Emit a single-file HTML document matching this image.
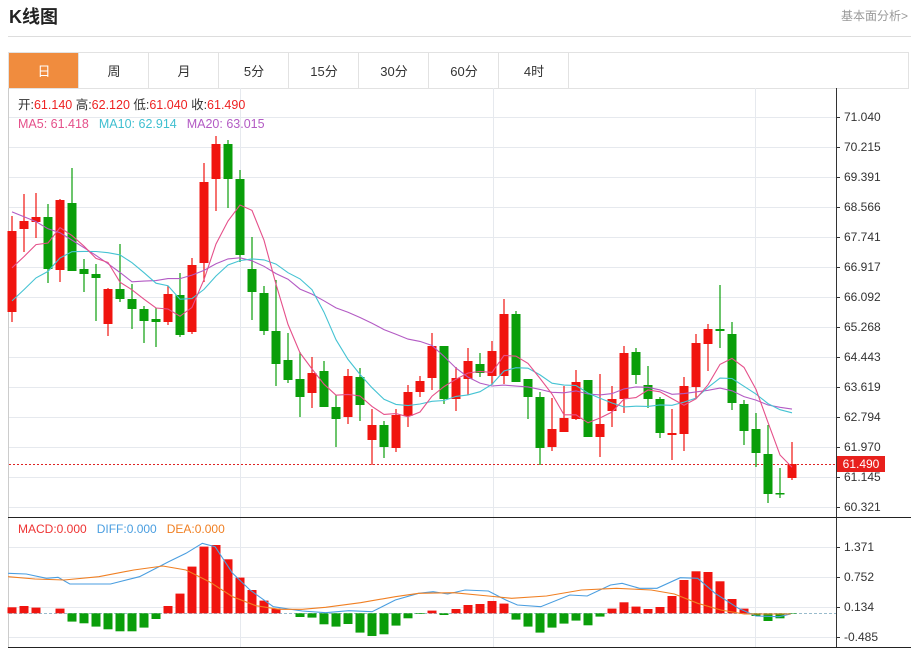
<!DOCTYPE html>
<html><head><meta charset="utf-8"><style>
body{margin:0;width:911px;height:653px;overflow:hidden;background:#fff;font-family:"Liberation Sans","Noto Sans CJK SC",sans-serif}
svg{position:absolute;left:0;top:0}
</style></head><body>
<svg id="s" width="911" height="653" xmlns="http://www.w3.org/2000/svg" font-family="Liberation Sans, Noto Sans CJK SC, sans-serif"></svg>
<script>
const S=document.getElementById('s');let h='';
const R='#f0140f',G='#0a9e0a';
// header
h+='<text x="9" y="23" font-size="18" font-weight="bold" fill="#222">K线图</text>';
h+='<text x="908" y="20" font-size="12" fill="#999" text-anchor="end">基本面分析&gt;</text>';
h+='<line x1="8" y1="36.5" x2="911" y2="36.5" stroke="#ddd"/>';
// tabs
h+='<rect x="8.5" y="52.5" width="900" height="36" fill="#fff" stroke="#e2e2e2"/>';
const tabs=['日','周','月','5分','15分','30分','60分','4时'];
tabs.forEach((t,i)=>{const x=9+i*70;
 if(i==0)h+='<rect x="9" y="53" width="69" height="35" fill="#f08c3e"/>';
 h+='<line x1="'+(x+69.5)+'" y1="53" x2="'+(x+69.5)+'" y2="88" stroke="#e2e2e2"/>';
 h+='<text x="'+(x+35)+'" y="76" font-size="13" text-anchor="middle" fill="'+(i==0?'#fff':'#333')+'">'+t+'</text>';});
// frame
h+='<line x1="8.5" y1="88" x2="8.5" y2="648" stroke="#ccc"/>';
h+='<line x1="836.5" y1="88" x2="836.5" y2="648" stroke="#333"/>';
h+='<line x1="8" y1="517.5" x2="911" y2="517.5" stroke="#222"/>';
h+='<line x1="8" y1="647.5" x2="911" y2="647.5" stroke="#222"/>';
const pl=['71.040','70.215','69.391','68.566','67.741','66.917','66.092','65.268','64.443','63.619','62.794','61.970','61.145','60.321'];
pl.forEach((l,i)=>{const y=117+i*30;h+='<line x1="9" y1="'+(y+.5)+'" x2="836" y2="'+(y+.5)+'" stroke="#e6e9ee"/>';
 h+='<line x1="836" y1="'+(y+.5)+'" x2="840" y2="'+(y+.5)+'" stroke="#333"/><text x="844" y="'+(y+4)+'" font-size="12" fill="#333">'+l+'</text>';});
[240,493,755].forEach(x=>{h+='<line x1="'+(x+.5)+'" y1="88" x2="'+(x+.5)+'" y2="517" stroke="#e6e9ee"/><line x1="'+(x+.5)+'" y1="518" x2="'+(x+.5)+'" y2="647" stroke="#e6e9ee"/>';});
const ml=[['1.371',547],['0.752',577],['0.134',607],['-0.485',637]];
ml.forEach(([l,y])=>{h+='<line x1="9" y1="'+(y+.5)+'" x2="836" y2="'+(y+.5)+'" stroke="#e6e9ee"/><line x1="836" y1="'+(y+.5)+'" x2="840" y2="'+(y+.5)+'" stroke="#333"/><text x="844" y="'+(y+4)+'" font-size="12" fill="#333">'+l+'</text>';});
// candles [isRed, bodyTop, bodyBot, hi, lo]
const C=[[1,231,312,216,322],[1,221,229,194,252],[1,217,222,193,238],[0,217,269,204,283],[1,200,270,199,282],[0,203,271,168,271],[0,269,274,259,292],[0,274,278,264,321],[1,289,324,288,336],[0,289,299,244,302],[0,299,309,284,329],[0,309,321,306,343],[0,319,322,308,347],[1,294,322,286,325],[0,295,335,273,337],[1,265,332,258,334],[1,182,263,163,282],[1,144,179,136,211],[0,144,179,140,208],[0,179,255,170,262],[0,269,292,237,320],[0,293,331,286,335],
[0,331,364,280,386],[0,360,380,333,383],[0,379,397,352,417],[1,373,393,357,408],[0,371,407,361,407],[0,407,419,395,447],[1,376,417,369,424],[0,377,405,368,421],[1,425,440,409,465],[0,425,447,421,458],[1,415,448,409,452],[1,392,416,385,427],[1,381,392,376,397],[1,346,378,333,390],[0,346,399,346,404],[1,378,399,367,411],[1,361,379,348,395],[0,364,373,353,377],[1,351,376,341,385],[1,314,376,299,384],[0,314,382,311,382],
[0,379,397,379,419],[0,397,448,392,465],[1,429,447,398,451],[1,418,432,386,432],[1,382,419,370,420],[0,380,437,380,437],[1,424,437,374,457],[1,399,411,386,427],[1,353,399,346,413],[0,352,375,348,384],[0,385,399,366,408],[0,399,433,397,438],[1,433,435,409,460],[1,386,434,377,451],[1,343,387,334,398],[1,329,344,324,371],[0,329,331,285,348],[0,334,403,322,410],[0,404,431,400,445],[0,429,453,413,467],[0,454,494,425,503],[0,493,494,468,498],[1,464,478,442,480]];
// current price line
h+='<line x1="9" y1="464.5" x2="836" y2="464.5" stroke="#d22" stroke-dasharray="2,2"/>';
h+='<rect x="837" y="456" width="48" height="16" fill="#e8201c"/><text x="861" y="468" font-size="12" fill="#fff" text-anchor="middle">61.490</text>';
const cl=[];
C.forEach((c,i)=>{const x=12+12*i,col=c[0]?R:G;cl.push(c[0]?c[1]:c[2]);
 h+='<line x1="'+x+'" y1="'+c[3]+'" x2="'+x+'" y2="'+c[4]+'" stroke="'+col+'" stroke-width="1.2"/>';
 h+='<rect x="'+(x-4.5)+'" y="'+c[1]+'" width="9" height="'+Math.max(1.5,c[2]-c[1])+'" fill="'+col+'"/>';});
// MAs
const pre=[];for(let i=0;i<10;i++)pre.push(123);for(let i=0;i<5;i++)pre.push(334);for(let i=0;i<4;i++)pre.push(277);
const all=pre.concat(cl);
function ma(n,col){let p=[];for(let i=0;i<cl.length;i++){let k=i+pre.length,s=0;for(let j=0;j<n;j++)s+=all[k-j];p.push((12+12*i)+','+(s/n).toFixed(1));}
 h+='<polyline points="'+p.join(' ')+'" fill="none" stroke="'+col+'" stroke-width="1.1"/>';}
ma(20,'#b35bc4');ma(10,'#45c3d3');ma(5,'#e5508a');
// legend
h+='<text x="18" y="109" font-size="12.5" fill="#333">开:<tspan fill="#e22">61.140</tspan>  高:<tspan fill="#e22">62.120</tspan>  低:<tspan fill="#e22">61.040</tspan>  收:<tspan fill="#e22">61.490</tspan></text>';
h+='<text x="18" y="128" font-size="12.5"><tspan fill="#e5508a">MA5: 61.418</tspan><tspan fill="#3fbfd0" dx="10">MA10: 62.914</tspan><tspan fill="#b35bc4" dx="10">MA20: 63.015</tspan></text>';
h+='<text x="18" y="533" font-size="12"><tspan fill="#e33">MACD:0.000</tspan><tspan fill="#4a9ee0" dx="10">DIFF:0.000</tspan><tspan fill="#f07f22" dx="10">DEA:0.000</tspan></text>';
// MACD bars (px, +up)
const M=[6,7.3,5.7,0,4.7,-8.3,-10,-13.3,-16,-18,-18,-14.3,-5.7,7.3,19.7,46.7,66.7,68.3,54,35.7,23.3,12.7,4.7,0,-3.7,-4.3,-11,-13.3,-10.7,-19.3,-22.7,-21,-12.3,-5,-0.7,2.7,-1.7,4.3,8.3,9.3,12.3,9.7,-6.3,-13.3,-19.3,-14.3,-10.3,-7.3,-12,-3.3,4.7,11,6.7,4.3,6.3,17.3,33.3,42,41.3,32,14.3,4.7,-2.7,-7.7,-5,-0.5];
const z=613.3;
h+='<line x1="9" y1="613.5" x2="836" y2="613.5" stroke="#9bc" stroke-dasharray="3,2"/>';
M.forEach((v,i)=>{const x=12+12*i;if(Math.abs(v)<0.3)return;
 h+='<rect x="'+(x-4.5)+'" y="'+(v>0?z-v:z)+'" width="9" height="'+Math.abs(v)+'" fill="'+(v>0?R:G)+'"/>';});
function ln(pts,col){h+='<polyline points="'+pts.map(p=>(p[0]/1.72).toFixed(1)+','+(p[1]/3+510).toFixed(1)).join(' ')+'" fill="none" stroke="'+col+'" stroke-width="1.1"/>';}
ln([[14,190],[45,192],[80,205],[100,202],[120,222],[190,222],[240,200],[290,155],[320,130],[348,100],[370,110],[400,190],[430,240],[470,290],[520,303],[560,308],[600,302],[640,305],[680,270],[720,250],[745,245],[770,252],[800,240],[840,243],[870,270],[890,285],[930,290],[980,255],[1010,258],[1050,225],[1070,220],[1100,235],[1130,235],[1170,203],[1200,205],[1230,250],[1270,295],[1300,318],[1340,320],[1360,312]],'#4a9ee0');
ln([[14,200],[60,207],[110,210],[170,200],[230,180],[280,168],[320,180],[360,215],[400,260],[440,287],[480,298],[520,298],[560,292],[620,278],[680,260],[720,250],[780,248],[840,258],[880,265],[940,258],[1000,240],[1060,235],[1120,240],[1160,252],[1200,280],[1240,300],[1280,312],[1360,312]],'#f07f22');
S.innerHTML=h;
</script>
</body></html>
